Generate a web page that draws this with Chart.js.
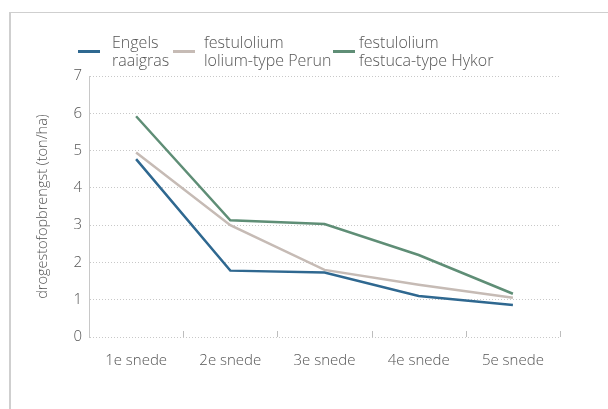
<!DOCTYPE html>
<html>
<head>
<meta charset="utf-8">
<script src="https://cdn.jsdelivr.net/npm/chart.js@4"></script>
<style>
  html, body { margin: 0; padding: 0; background: #fff; }
  #wrap { position: relative; width: 608px; height: 409px; overflow: hidden; }
  #frame { position: absolute; left: 9px; top: 12px; width: 700px; height: 500px; border: 1px solid #cfcfcf; border-width: 1px 0 0 2px; }
  #chart { position: absolute; left: 0; top: 0; }
</style>
</head>
<body>
<div id="wrap">
  <div id="frame"></div>
  <canvas id="chart" width="608" height="409"></canvas>
</div>
<script>
const categories = ['1e snede', '2e snede', '3e snede', '4e snede', '5e snede'];
const seriesNames = [['Engels', 'raaigras'], ['festulolium', 'lolium-type Perun'], ['festulolium', 'festuca-type Hykor']];
const engelsRaaigras = [4.77, 1.78, 1.73, 1.1, 0.86];
const loliumPerun = [4.95, 3.0, 1.8, 1.4, 1.05];
const festucaHykor = [5.92, 3.13, 3.03, 2.2, 1.16];
const colors = ['#2f6890', '#c6bbb5', '#5f8e76'];
const yTicks = [0, 1, 2, 3, 4, 5, 6, 7];

const fontFamily = '"Open Sans", Lato, sans-serif';
const textColor = '#555';

// legenda met tekst over twee regels
const legendX = [78, 173, 333];
const legendTextGap = [12, 9, 4];
const twoLineLegend = {
  id: 'twoLineLegend',
  afterDraw(chart) {
    const ctx = chart.ctx;
    ctx.save();
    ctx.font = '300 16px ' + fontFamily;
    ctx.textBaseline = 'middle';
    ctx.textAlign = 'left';
    chart.data.datasets.forEach(function(ds, i) {
      const x = legendX[i];
      ctx.strokeStyle = ds.borderColor;
      ctx.lineWidth = 3;
      ctx.beginPath();
      ctx.moveTo(x, 51.5);
      ctx.lineTo(x + 22, 51.5);
      ctx.stroke();
      ctx.fillStyle = textColor;
      ds.label.forEach(function(line, j) {
        ctx.fillText(line, x + 22 + legendTextGap[i], 43 + j * 18);
      });
    });
    ctx.restore();
  }
};

// kleine streepjes op de x-as tussen de categorieën
const tickMarks = {
  id: 'tickMarks',
  afterDraw(chart) {
    const x = chart.scales.x;
    const ctx = chart.ctx;
    const bottom = chart.chartArea.bottom;
    ctx.save();
    ctx.strokeStyle = '#bdbdbd';
    ctx.lineWidth = 1;
    for (let i = 0; i < categories.length; i++) {
      const px = Math.round(x.getPixelForValue(i + 0.5)) + 0.5;
      ctx.beginPath();
      ctx.moveTo(px, bottom - 6);
      ctx.lineTo(px, bottom);
      ctx.stroke();
    }
    ctx.restore();
  }
};

const datasets = [engelsRaaigras, loliumPerun, festucaHykor].map(function(values, i) {
  return {
    label: seriesNames[i],
    data: values,
    borderColor: colors[i],
    backgroundColor: colors[i],
    borderWidth: 2.5,
    pointRadius: 0,
    tension: 0,
    fill: false
  };
});

new Chart(document.getElementById('chart'), {
  type: 'line',
  data: { labels: categories, datasets: datasets },
  plugins: [tickMarks, twoLineLegend],
  options: {
    responsive: false,
    animation: false,
    layout: { padding: { left: 24, right: 48, top: 76, bottom: 32 } },
    plugins: {
      tooltip: { enabled: false },
      legend: { display: false }
    },
    scales: {
      x: {
        offset: true,
        grid: { display: false },
        border: { display: false },
        ticks: { color: textColor, font: { family: fontFamily, size: 15, weight: '300' }, padding: 7 }
      },
      y: {
        min: 0,
        max: 7,
        afterBuildTicks(scale) { scale.ticks = yTicks.map(function(v) { return { value: v }; }); },
        afterFit(scale) { scale.width = 65; },
        grid: { color: '#c8c8c8', drawTicks: false, lineWidth: 1 },
        border: { display: true, color: '#c8c8c8', dash: [1, 2] },
        ticks: { color: textColor, font: { family: fontFamily, size: 15, weight: '300' }, padding: 7 },
        title: {
          display: true,
          text: 'drogestofopbrengst (ton/ha)',
          color: textColor,
          font: { family: fontFamily, size: 14.5, weight: '300' },
          padding: { top: 10, bottom: 0 }
        }
      }
    }
  }
});
</script>
</body>
</html>
